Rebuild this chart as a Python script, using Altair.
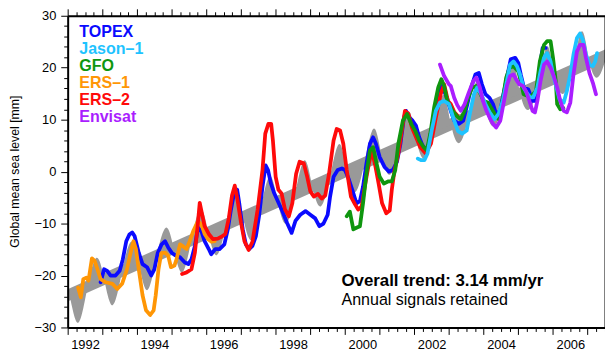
import altair as alt
import pandas as pd
import numpy as np

# ---------------- data ----------------
# grey trend band centre line, end points
trend_t = [1991.5, 2008.0]
trend_v = [-25.3, 23.8]
band_half = 1.2  # half thickness of grey trend band [mm]

# trend + annual model curve (grey)
model_t = [1991.83, 1992.05, 1992.30, 1992.57, 1992.83, 1993.05, 1993.30, 1993.57, 1993.83,
           1994.05, 1994.30, 1994.57, 1994.83, 1995.05, 1995.30, 1995.57, 1995.83,
           1996.05, 1996.30, 1996.57, 1996.83, 1997.05, 1997.30, 1997.57, 1997.83,
           1998.05, 1998.30, 1998.57, 1998.83, 1999.05, 1999.30, 1999.57, 1999.83,
           2000.05, 2000.30, 2000.57, 2000.83, 2001.05, 2001.30, 2001.57, 2001.83,
           2002.05, 2002.30, 2002.57, 2002.83, 2003.05, 2003.30, 2003.57, 2003.83,
           2004.05, 2004.30, 2004.57, 2004.83, 2005.05, 2005.30, 2005.57, 2005.83,
           2006.05, 2006.30, 2006.57, 2006.83, 2007.05, 2007.30, 2007.57, 2007.83]
model_v = [-19.2, -23.7, -29.1, -22.3, -16.6, -20.6, -25.7, -19.2, -13.5,
           -17.6, -22.8, -16.2, -10.8, -14.5, -19.4, -13.1, -7.2,
           -11.5, -16.1, -10.1, -4.1, -8.5, -13.2, -7.1, -0.9,
           -5.5, -10.0, -4.0, 2.2, -2.6, -6.7, -1.0, 5.3,
           0.3, -3.9, 2.0, 8.3, 3.4, -0.6, 5.0, 11.6,
           6.3, 2.5, 7.9, 14.8, 9.3, 5.5, 10.9, 17.9,
           12.3, 8.7, 13.8, 21.0, 15.2, 11.9, 16.8, 24.1,
           18.2, 15.0, 19.8, 27.0, 21.2, 18.2, 22.8, 29.0]

topex_t = [1992.95, 1993.05, 1993.14, 1993.24, 1993.38, 1993.50, 1993.59, 1993.69, 1993.78, 1993.86,
           1993.93, 1994.05, 1994.16, 1994.29, 1994.41, 1994.50, 1994.60, 1994.71, 1994.81, 1994.90,
           1995.00, 1995.10, 1995.24, 1995.38, 1995.48, 1995.57, 1995.67, 1995.76, 1995.86, 1995.95,
           1996.07, 1996.14, 1996.26, 1996.38, 1996.52, 1996.62, 1996.71, 1996.81, 1996.89, 1996.95,
           1997.05, 1997.14, 1997.24, 1997.33, 1997.43, 1997.52, 1997.62, 1997.71, 1997.78, 1997.86,
           1997.95, 1998.05, 1998.19, 1998.33, 1998.46, 1998.57, 1998.71, 1998.86, 1999.00, 1999.14,
           1999.26, 1999.38, 1999.50, 1999.57, 1999.67, 1999.79, 1999.91, 2000.00, 2000.10, 2000.21,
           2000.33, 2000.43, 2000.52, 2000.62, 2000.72, 2000.81, 2000.89, 2001.00, 2001.14, 2001.27,
           2001.38, 2001.50, 2001.60, 2001.70, 2001.76, 2001.86, 2001.95, 2002.05, 2002.14, 2002.24,
           2002.33, 2002.43, 2002.57, 2002.69, 2002.80, 2002.95, 2003.05, 2003.15, 2003.29, 2003.41,
           2003.53, 2003.64, 2003.76, 2003.86, 2003.95, 2004.05, 2004.17, 2004.27, 2004.36, 2004.48,
           2004.57, 2004.69, 2004.78, 2004.91, 2005.00, 2005.07, 2005.16, 2005.29, 2005.41, 2005.51,
           2005.60, 2005.70, 2005.79]
topex_v = [-21.3, -18.8, -19.1, -20.0, -20.0, -19.1, -16.9, -13.4, -12.1, -11.7,
           -12.4, -15.6, -17.8, -18.4, -20.0, -18.8, -15.6, -14.0, -13.4, -14.6,
           -15.6, -16.1, -16.5, -17.5, -17.8, -16.9, -14.3, -10.8, -11.5, -13.4,
           -14.9, -15.9, -14.9, -14.9, -14.0, -11.1, -7.3, -3.8, -3.5, -6.1,
           -11.1, -14.0, -14.9, -14.3, -12.4, -8.6, -2.9, 1.2, 0.3, -2.2,
           -4.0, -5.5, -7.6, -9.9, -11.8, -9.5, -8.3, -7.6, -8.3, -9.0,
           -10.5, -10.0, -8.3, -4.8, -1.0, 0.3, 0.6, 0.3, -1.3, -3.5,
           -6.1, -5.7, -2.9, 1.6, 5.4, 6.6, 5.4, 2.8, 0.9, 0.0,
           0.3, 1.9, 5.4, 10.4, 11.7, 10.4, 9.8, 8.8, 6.6, 5.0,
           4.1, 5.5, 11.0, 15.0, 16.5, 14.0, 11.7, 9.8, 9.2, 9.8,
           13.0, 16.2, 18.7, 19.0, 16.8, 14.9, 14.2, 13.0, 11.1, 11.7,
           14.9, 18.7, 21.6, 21.9, 20.9, 18.7, 16.2, 15.8, 13.6, 13.6,
           19.3, 23.8, 23.8]

ers1_t = [1992.30, 1992.38, 1992.45, 1992.54, 1992.60, 1992.70, 1992.78, 1992.86, 1992.95, 1993.10,
          1993.29, 1993.43, 1993.57, 1993.71, 1993.84, 1993.90, 1993.97, 1994.05, 1994.16, 1994.26,
          1994.38, 1994.48, 1994.54, 1994.62, 1994.70, 1994.81, 1994.90, 1994.98, 1995.08, 1995.14,
          1995.24, 1995.33, 1995.43, 1995.52, 1995.62, 1995.76, 1995.86, 1995.95, 1996.05, 1996.15,
          1996.24]
ers1_v = [-22.3, -24.2, -20.7, -20.4, -21.0, -16.7, -17.2, -18.8, -20.7, -21.3,
          -21.6, -22.6, -21.6, -18.8, -14.9, -13.4, -14.9, -18.8, -23.8, -26.7,
          -27.6, -26.7, -23.8, -18.8, -15.7, -15.6, -16.2, -18.4, -18.1, -16.9,
          -14.0, -14.4, -14.9, -13.4, -11.5, -9.5, -10.2, -12.0, -13.0, -13.5,
          -13.4]

ers2_t = [1995.30, 1995.43, 1995.57, 1995.67, 1995.74, 1995.81, 1995.88, 1995.95, 1996.07, 1996.19,
          1996.33, 1996.45, 1996.55, 1996.65, 1996.74, 1996.82, 1996.90, 1997.00, 1997.10, 1997.22,
          1997.33, 1997.48, 1997.62, 1997.70, 1997.79, 1997.87, 1997.92, 1998.00, 1998.08, 1998.17,
          1998.27, 1998.38, 1998.48, 1998.59, 1998.69, 1998.81, 1998.91, 1999.00, 1999.10, 1999.22,
          1999.33, 1999.43, 1999.54, 1999.67, 1999.76, 1999.86, 1999.95, 2000.05, 2000.17, 2000.29,
          2000.38, 2000.48, 2000.57, 2000.69, 2000.78, 2000.88, 2000.97, 2001.07, 2001.19, 2001.29,
          2001.35, 2001.43, 2001.54, 2001.64, 2001.73, 2001.83, 2001.93, 2002.05, 2002.17, 2002.33,
          2002.48, 2002.62, 2002.76, 2002.86, 2002.97, 2003.05, 2003.15, 2003.24]
ers2_v = [-19.7, -19.4, -18.8, -15.6, -11.1, -6.0, -8.3, -10.5, -12.0, -13.0,
          -12.9, -12.5, -12.0, -8.9, -4.6, -2.7, -5.5, -9.8, -13.4, -15.1,
          -13.5, -7.3, 0.3, 7.3, 9.2, 9.2, 6.0, -1.0, -3.5, -4.2,
          -7.3, -8.6, -6.1, -0.4, 1.9, 1.6, -1.0, -3.8, -4.8, -4.3,
          -5.2, -4.6, -0.4, 6.0, 8.2, 7.9, 5.4, 0.3, -4.8, -6.3,
          -7.3, -6.7, -2.9, 1.6, 4.1, 0.9, -2.3, -6.1, -8.0, -7.5,
          -3.5, 0.3, 3.5, 7.9, 11.7, 11.1, 8.5, 6.6, 4.7, 3.5,
          5.4, 10.4, 14.9, 16.8, 13.6, 13.0, 11.5, 10.8]

gfo_t = [2000.05, 2000.14, 2000.24, 2000.33, 2000.43, 2000.52, 2000.62, 2000.72, 2000.81, 2000.91,
         2001.00, 2001.12, 2001.24, 2001.35, 2001.45, 2001.54, 2001.67, 2001.79, 2001.91, 2002.02,
         2002.14, 2002.27, 2002.36, 2002.46, 2002.57, 2002.69, 2002.78, 2002.86, 2002.95, 2003.10,
         2003.24, 2003.34, 2003.45, 2003.55, 2003.67, 2003.79, 2003.91, 2004.00, 2004.12, 2004.24,
         2004.34, 2004.43, 2004.53, 2004.65, 2004.75, 2004.86, 2005.00, 2005.07, 2005.15, 2005.26,
         2005.38, 2005.51, 2005.62, 2005.74, 2005.83, 2005.93, 2006.00, 2006.08, 2006.12, 2006.21,
         2006.30]
gfo_v = [-8.6, -7.7, -11.1, -10.8, -10.5, -6.1, -0.3, 4.1, 4.7, 1.6,
         -1.0, -2.3, -1.9, -1.9, 0.3, 5.4, 9.8, 11.1, 9.2, 7.9,
         6.0, 4.7, 4.1, 7.3, 12.3, 16.2, 17.8, 16.5, 13.6, 11.7,
         10.6, 10.1, 11.7, 14.2, 16.2, 16.5, 14.9, 13.6, 13.3, 12.0,
         10.8, 10.1, 13.0, 18.1, 20.0, 20.3, 19.3, 17.4, 14.9, 14.6,
         14.6, 15.5, 21.2, 24.4, 25.1, 25.1, 21.9, 17.4, 13.0, 12.0,
         12.2]

jason_t = [2002.10, 2002.19, 2002.29, 2002.38, 2002.50, 2002.62, 2002.74, 2002.86, 2003.00, 2003.14,
           2003.26, 2003.38, 2003.51, 2003.60, 2003.72, 2003.81, 2003.93, 2004.05, 2004.17, 2004.31,
           2004.43, 2004.55, 2004.67, 2004.76, 2004.86, 2004.96, 2005.05, 2005.15, 2005.24, 2005.34,
           2005.43, 2005.55, 2005.64, 2005.74, 2005.83, 2005.93, 2006.00, 2006.10, 2006.19, 2006.31,
           2006.40, 2006.50, 2006.59, 2006.69, 2006.78, 2006.86, 2006.95, 2007.05, 2007.15, 2007.22,
           2007.27]
jason_v = [2.5, 2.2, 2.2, 3.5, 7.9, 11.7, 13.3, 13.6, 13.0, 10.0,
           7.8, 7.3, 7.9, 11.1, 14.9, 16.2, 14.9, 13.0, 11.4, 10.1,
           11.1, 13.6, 17.4, 20.6, 21.2, 20.3, 18.7, 16.2, 15.2, 14.3,
           14.3, 16.2, 19.3, 21.9, 22.8, 21.2, 18.7, 16.2, 13.9, 13.3,
           15.5, 18.7, 22.5, 25.7, 26.6, 25.4, 22.5, 20.6, 20.3, 21.2,
           22.8]

envisat_t = [2002.74, 2002.86, 2003.00, 2003.05, 2003.15, 2003.24, 2003.34, 2003.45, 2003.57, 2003.70,
             2003.79, 2003.89, 2003.98, 2004.08, 2004.17, 2004.27, 2004.36, 2004.48, 2004.57, 2004.67,
             2004.76, 2004.86, 2004.94, 2005.03, 2005.13, 2005.22, 2005.32, 2005.41, 2005.48, 2005.55,
             2005.64, 2005.74, 2005.83, 2005.93, 2006.02, 2006.12, 2006.21, 2006.31, 2006.40, 2006.50,
             2006.59, 2006.69, 2006.78, 2006.88, 2006.95, 2007.05, 2007.15, 2007.24]
envisat_v = [20.6, 18.4, 16.8, 16.5, 14.2, 12.8, 11.7, 13.0, 15.2, 17.4,
             18.1, 16.2, 13.6, 11.7, 10.4, 9.2, 8.5, 9.8, 13.0, 16.5,
             18.4, 18.7, 17.7, 16.8, 16.5, 15.5, 13.6, 11.7, 11.4, 13.6,
             17.4, 20.6, 21.2, 20.0, 18.4, 16.2, 13.6, 11.7, 11.4, 13.3,
             18.7, 23.1, 24.4, 24.4, 21.9, 19.0, 17.1, 14.9]

series_names = ["TOPEX", "Jason\u20131", "GFO", "ERS\u20131", "ERS\u20132", "Envisat"]
series_colors = ["#0a0aff", "#1ec3ff", "#0f960f", "#ff9605", "#ff0a0a", "#aa1eff"]

x_ticks = [1992 + 0.25 * k for k in range(63)]
y_ticks = list(range(-30, 31, 2))

# ---------------- chart ----------------
W, H = 543, 315
FONT = "Liberation Sans"
xs = alt.Scale(domain=[1992, 2007.5], nice=False, zero=False)
ys = alt.Scale(domain=[-30, 30], nice=False, zero=False)

def xaxis(orient, labels):
    return alt.Axis(
        orient=orient, values=x_ticks, title=None, grid=False,
        domain=True, domainColor="black", domainWidth=2,
        ticks=True, tickColor="black", tickWidth=1,
        tickSize={"condition": {"test": "datum.value % 1 === 0", "value": 7}, "value": 4},
        labels=labels,
        labelExpr="(datum.value % 2 === 0.5) ? format(floor(datum.value), 'd') : ''",
        labelOverlap=False, labelFlush=False, labelFont=FONT, labelFontSize=13,
        labelColor="black", labelPadding=7, zindex=1,
    )

def yaxis(orient, labels):
    return alt.Axis(
        orient=orient, values=y_ticks, title=None, grid=False,
        domain=True, domainColor="black", domainWidth=2,
        ticks=True, tickColor="black", tickWidth=1,
        tickSize={"condition": {"test": "datum.value % 10 === 0", "value": 7}, "value": 4},
        labels=labels,
        labelExpr="(datum.value % 10 === 0) ? datum.label : ''",
        labelOverlap=False, labelFlush=False, labelFont=FONT, labelFontSize=13,
        labelColor="black", labelPadding=5, zindex=1,
    )

trend_df = pd.DataFrame({
    "t": trend_t,
    "lo": [v - band_half for v in trend_v],
    "hi": [v + band_half for v in trend_v],
})
model_df = pd.DataFrame({
    "t": model_t,
    "v": model_v,
    "trend": np.interp(model_t, trend_t, trend_v),
})

GREY = "#999999"

band = alt.Chart(trend_df).mark_area(color=GREY, clip=True).encode(
    x=alt.X("t:Q", scale=xs, axis=xaxis("bottom", True)),
    y=alt.Y("lo:Q", scale=ys, axis=yaxis("left", True)),
    y2="hi:Q",
)
model = alt.Chart(model_df).mark_area(color=GREY, clip=True, interpolate="natural").encode(
    x=alt.X("t:Q", scale=xs, axis=xaxis("top", False)),
    y=alt.Y("v:Q", scale=ys, axis=yaxis("right", False)),
    y2="trend:Q",
)

def line(ts, vs, color):
    df = pd.DataFrame({"t": ts, "v": vs})
    return alt.Chart(df).mark_line(
        color=color, strokeWidth=3.8, clip=True, strokeJoin="round", strokeCap="round"
    ).encode(
        x=alt.X("t:Q", scale=xs, axis=None),
        y=alt.Y("v:Q", scale=ys, axis=None),
    )

lines = [
    line(topex_t, topex_v, series_colors[0]),
    line(ers1_t, ers1_v, series_colors[3]),
    line(ers2_t, ers2_v, series_colors[4]),
    line(gfo_t, gfo_v, series_colors[2]),
    line(jason_t, jason_v, series_colors[1]),
    line(envisat_t, envisat_v, series_colors[5]),
]

def text(label, x, y, size, weight="normal", color="black", angle=0, align="left"):
    return alt.Chart(pd.DataFrame({"s": [label]})).mark_text(
        font=FONT, fontSize=size, fontWeight=weight, color=color,
        align=align, baseline="alphabetic", angle=angle,
    ).encode(x=alt.value(x), y=alt.value(y), text="s:N")

legend_layers = []
for i, (name, col) in enumerate(zip(series_names, series_colors)):
    legend_layers.append(text(name, 11.7, 21 + 17.35 * i, 16.2, "bold", col))

annot = [
    text("Overall trend: 3.14 mm/yr", 276.7, 273.5, 17, "bold"),
    text("Annual signals retained", 276.7, 292.3, 16.2),
]
ytitle = alt.Chart(pd.DataFrame({"s": ["Global mean sea level [mm]"]})).mark_text(
    font=FONT, fontSize=12.4, color="black", angle=270, align="center", baseline="middle",
).encode(x=alt.value(-53.3), y=alt.value(157.5), text="s:N")

chart = alt.layer(band, model, *lines, *legend_layers, *annot, ytitle).resolve_axis(
    x="independent", y="independent"
).properties(
    width=W, height=H,
    padding={"left": 60.3, "top": 6, "right": 0, "bottom": 28},
    autosize=alt.AutoSizeParams(type="none"),
).configure_view(stroke=None).configure(background="white")

chart.save("out.html", embed_options={"renderer": "svg", "actions": False})
